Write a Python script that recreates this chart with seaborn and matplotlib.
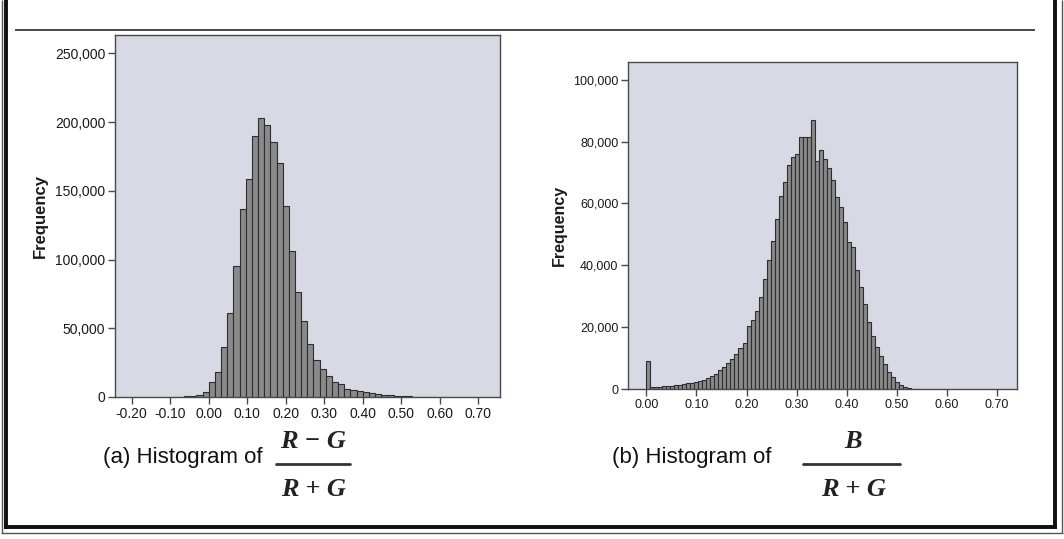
import numpy as np
import pandas as pd
import matplotlib
matplotlib.use("Agg")
import matplotlib.pyplot as plt
import seaborn as sns
from matplotlib.ticker import FuncFormatter, FixedLocator
from matplotlib.lines import Line2D
from matplotlib import font_manager

# ---------------- data ----------------
left_bin_start = -0.096
left_bin_width = 0.016
left_counts = [100, 200, 400, 800, 1500, 4000,
               11000, 18000, 36500, 61000, 95000, 136500, 158500, 190000,
               203000, 198000, 185500, 170000, 139000, 106500, 76500, 55000,
               38500, 27000, 20500, 15500, 11000, 9500, 6000, 5000, 4200,
               3300, 2800, 2200, 1700, 1300, 1000, 700, 500, 350, 250, 150, 100]

right_bin_start = 0.0
right_bin_width = 0.008
right_counts = [9200, 550, 650, 750, 850, 950, 1100, 1250, 1400, 1600,
                1800, 2000, 2300, 2600, 2900, 3400, 4200, 5000, 6100, 7200,
                8500, 9700, 11200, 13100, 14800, 20400, 22300, 25300, 29600, 35400,
                41700, 48000, 54800, 62400, 67000, 72500, 75000, 76000, 81300, 81300,
                81300, 86800, 73700, 77100, 74200, 71400, 67400, 62000, 58800, 54000,
                47500, 46000, 38500, 33000, 27500, 21500, 17000, 13500, 10800, 8000,
                5500, 3800, 2400, 1400, 700, 300, 120, 50]

left_xticks = [-0.20, -0.10, 0.00, 0.10, 0.20, 0.30, 0.40, 0.50, 0.60, 0.70]
left_yticks = [0, 50000, 100000, 150000, 200000, 250000]
right_xticks = [0.00, 0.10, 0.20, 0.30, 0.40, 0.50, 0.60, 0.70]
right_yticks = [0, 20000, 40000, 60000, 80000, 100000]

y_label = "Frequency"
caption_a = "(a) Histogram of"
caption_b = "(b) Histogram of"
frac_a_num, frac_a_den = "R \u2212 G", "R + G"
frac_b_num, frac_b_den = "B", "R + G"

# ---------------- style ----------------
sns.set_theme(style="white")
plt.rcParams['font.family'] = ['Liberation Sans', 'DejaVu Sans']

W, H = 1064, 539
fig = plt.figure(figsize=(W / 100, H / 100), dpi=100)
fig.patch.set_facecolor("white")


def fx(x):
    return x / W


def fy(y):
    return 1 - y / H


def ax_rect(l, t, r, b):
    return [l / W, 1 - b / H, (r - l) / W, (b - t) / H]


FACE = "#d7d9e4"
BAR = "#8a8a8a"
EDGE = "#2e2e2e"
SPINE = "#4a4a4a"


def draw_hist(ax, start, width, counts, xlim, ylim, xticks, yticks,
              tick_size, label_size, label_pad):
    n = len(counts)
    edges = [start + width * i for i in range(n + 1)]
    centers = [(edges[i] + edges[i + 1]) / 2 for i in range(n)]
    df = pd.DataFrame({"value": centers, "count": counts})
    sns.histplot(data=df, x="value", weights="count", bins=edges, ax=ax,
                 color=BAR, edgecolor=EDGE, linewidth=0.8, alpha=1.0)
    ax.set_facecolor(FACE)
    ax.set_xlim(*xlim)
    ax.set_ylim(*ylim)
    ax.xaxis.set_major_locator(FixedLocator(xticks))
    ax.yaxis.set_major_locator(FixedLocator(yticks))
    ax.xaxis.set_major_formatter(FuncFormatter(lambda v, p: f"{v:.2f}"))
    ax.yaxis.set_major_formatter(FuncFormatter(lambda v, p: f"{int(round(v)):,}"))
    ax.tick_params(axis="both", which="major", direction="out", length=5, width=1,
                   color=SPINE, labelsize=tick_size, labelcolor="#1a1a1a",
                   bottom=True, left=True, pad=2)
    for s in ax.spines.values():
        s.set_visible(True)
        s.set_color(SPINE)
        s.set_linewidth(1.0)
    ax.set_xlabel("")
    ax.set_ylabel(y_label, fontsize=label_size, fontweight="bold", color="#1a1a1a",
                  labelpad=label_pad)
    ax.grid(False)


ax1 = fig.add_axes(ax_rect(115, 35, 500, 397))
draw_hist(ax1, left_bin_start, left_bin_width, left_counts,
          (-0.2434, 0.7563), (0, 263300), left_xticks, left_yticks,
          10, 12, 5)

ax2 = fig.add_axes(ax_rect(628, 62, 1017, 389))
draw_hist(ax2, right_bin_start, right_bin_width, right_counts,
          (-0.0366, 0.740), (0, 105700), right_xticks, right_yticks,
          9, 11.5, 4)

# ---------------- captions ----------------
avail = {f.name for f in font_manager.fontManager.ttflist}
cap_family = ['Liberation Sans Narrow', 'DejaVu Sans'] if 'Liberation Sans Narrow' in avail \
    else ['Liberation Sans', 'DejaVu Sans']
cap_size = 19 if 'Liberation Sans Narrow' in avail else 16

fig.text(fx(103), fy(458), caption_a, family=cap_family, fontsize=cap_size,
         ha="left", va="center", color="#111111")
fig.text(fx(612), fy(458), caption_b, family=cap_family, fontsize=cap_size,
         ha="left", va="center", color="#111111")

frac_family = ['Liberation Serif', 'DejaVu Serif']


def fraction(cx, num, den, x0, x1):
    fig.text(fx(cx), fy(442), num, family=frac_family, fontsize=19,
             fontweight="bold", fontstyle="italic", ha="center", va="center", color="#222222")
    fig.text(fx(cx), fy(490), den, family=frac_family, fontsize=19,
             fontweight="bold", fontstyle="italic", ha="center", va="center", color="#222222")
    fig.add_artist(Line2D([fx(x0), fx(x1)], [fy(464), fy(464)], transform=fig.transFigure,
                          color="#333333", linewidth=2.0))


fraction(313, frac_a_num, frac_a_den, 276, 350)
fraction(853, frac_b_num, frac_b_den, 803, 900)

# ---------------- frame ----------------
def fline(x0, y0, x1, y1, lw, c="#111111"):
    fig.add_artist(Line2D([fx(x0), fx(x1)], [fy(y0), fy(y1)], transform=fig.transFigure,
                          color=c, linewidth=lw, solid_capstyle="butt"))


fline(15, 30, 1035, 30, 1.3, "#3a3a3a")
# inner thick border
fline(5.5, 0, 5.5, 529, 2.8)
fline(1055, 0, 1055, 529, 2.8)
fline(4, 527, 1057, 527, 2.8)
# outer thin border
fline(1.5, 0, 1.5, 533, 1.0, "#555555")
fline(1062, 0, 1062, 533, 1.0, "#555555")
fline(1, 532.5, 1063, 532.5, 1.0, "#555555")

fig.savefig("out.png", dpi=100, facecolor=fig.get_facecolor())
